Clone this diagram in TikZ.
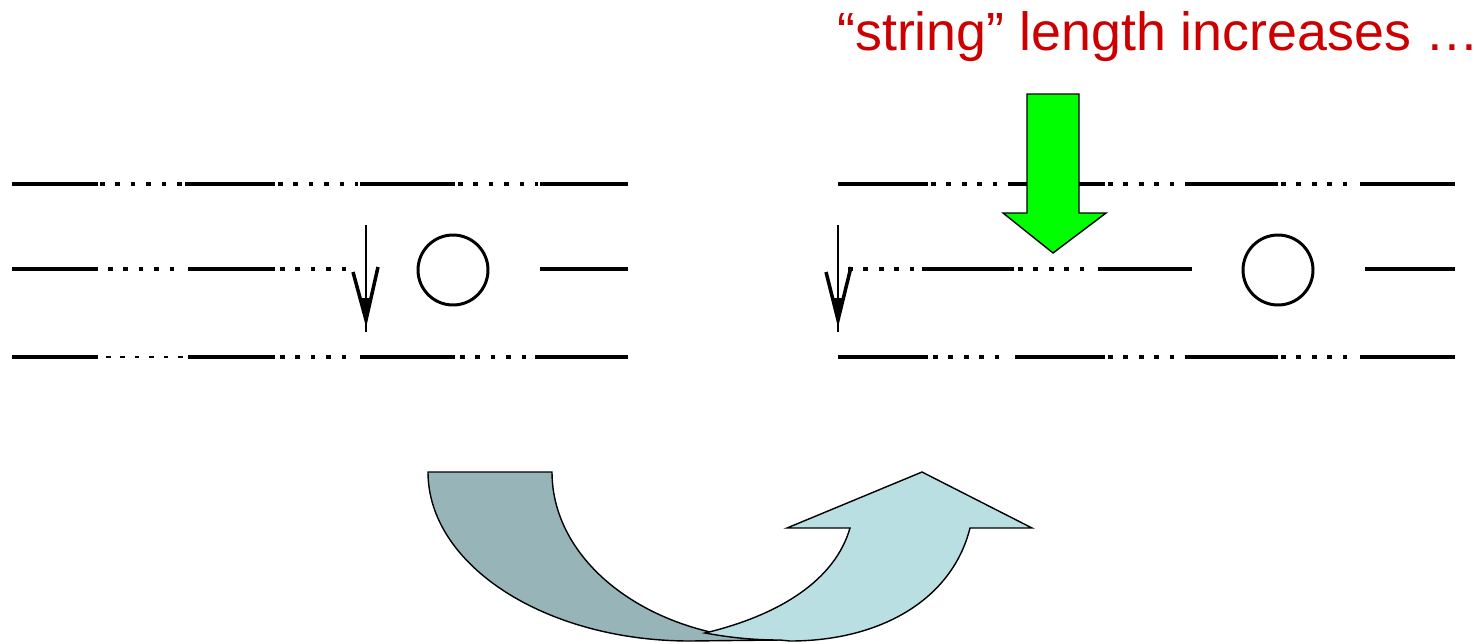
\documentclass[tikz,border=0pt]{standalone}
\usepackage{fontspec}
\setmainfont{Liberation Sans}
\usepackage{xcolor}
\usepackage{tikz}
\definecolor{titlered}{RGB}{204,0,0}
\definecolor{pushgreen}{RGB}{0,255,0}
\definecolor{bandback}{RGB}{151,180,185}
\definecolor{bandfront}{RGB}{186,223,227}
\tikzset{
    solidseg/.style={line width=2.3pt},
    dotseg/.style={line width=2.3pt, dash pattern=on 2.6pt off 6.2pt},
    thindot/.style={line width=1.4pt, dash pattern=on 2.6pt off 5.6pt},
    ring/.style={circle, draw=black, line width=1.7pt, minimum size=1.4cm, inner sep=0pt},
    defect/.style={line width=0.8pt},
    barb/.style={line width=2pt, line join=miter},
    band/.style={draw=black, line width=0.8pt}
}

\begin{document}
\begin{tikzpicture}[x=0.02cm, y=-0.02cm]
    \useasboundingbox (0,0) rectangle (1477,643);

    % title
    \node (title) [anchor=base west, inner sep=0pt, text=titlered, font=\fontsize{30.6}{36}\selectfont] at (837,50) {“string” length increases …};

    % left chain, before the move
    \draw [solidseg] (12,184) -- (98,184);
    \draw [dotseg] (100,184) -- (183,184);
    \draw [solidseg] (185,184) -- (275,184);
    \draw [dotseg] (278,184) -- (358,184);
    \draw [solidseg] (360,184) -- (455,184);
    \draw [dotseg] (458,184) -- (538,184);
    \draw [solidseg] (540,184) -- (628,184);

    \draw [solidseg] (12,269) -- (98,269);
    \draw [dotseg] (108,269) -- (182,269);
    \draw [solidseg] (188,269) -- (275,269);
    \draw [dotseg] (280,269) -- (355,269);
    \draw [solidseg] (540,269) -- (628,269);

    \draw [solidseg] (12,357) -- (98,357);
    \draw [thindot] (106,357) -- (185,357);
    \draw [solidseg] (188,357) -- (275,357);
    \draw [dotseg] (280,357) -- (355,357);
    \draw [solidseg] (360,357) -- (455,357);
    \draw [dotseg] (460,357) -- (533,357);
    \draw [solidseg] (535,357) -- (628,357);

    \node (ballL) [ring] at (453,270) {};
    \coordinate (spinLtop) at (366,225);
    \coordinate (spinLtip) at (366,332);
    \draw [defect] (spinLtop) -- (spinLtip);
    \draw [barb] (353,272) -- (366,320) -- (378,267);
    \fill (361,298) -- (371,298) -- (366,326) -- cycle;

    % right chain, after the move
    \draw [solidseg] (838,184) -- (928,184);
    \draw [dotseg] (931,184) -- (1006,184);
    \draw [solidseg] (1008,184) -- (1105,184);
    \draw [dotseg] (1108,184) -- (1183,184);
    \draw [solidseg] (1185,184) -- (1278,184);
    \draw [dotseg] (1281,184) -- (1358,184);
    \draw [solidseg] (1360,184) -- (1455,184);

    \draw [dotseg] (848,269) -- (918,269);
    \draw [solidseg] (922,269) -- (1014,269);
    \draw [dotseg] (1018,269) -- (1092,269);
    \draw [solidseg] (1098,269) -- (1192,269);
    \draw [solidseg] (1365,269) -- (1455,269);

    \draw [solidseg] (838,357) -- (928,357);
    \draw [dotseg] (933,357) -- (1010,357);
    \draw [solidseg] (1015,357) -- (1105,357);
    \draw [dotseg] (1108,357) -- (1183,357);
    \draw [solidseg] (1185,357) -- (1278,357);
    \draw [dotseg] (1281,357) -- (1358,357);
    \draw [solidseg] (1360,357) -- (1455,357);

    \node (ballR) [ring] at (1278,270) {};
    \coordinate (spinRtop) at (838,225);
    \coordinate (spinRtip) at (838,332);
    \draw [defect] (spinRtop) -- (spinRtip);
    \draw [barb] (826,272) -- (838,320) -- (851,267);
    \fill (833,298) -- (843,298) -- (838,326) -- cycle;

    % green push arrow
    \draw [fill=pushgreen, line width=0.8pt, line join=miter]
        (1027,94) -- (1079,94) -- (1079,213) -- (1106,213) -- (1053,253)
        -- (1003,213) -- (1027,213) -- cycle;

    % curved arrow below
    \draw [band, fill=bandback]
        (428,472) -- (552,472) .. controls (552,565) and (654,640) .. (780,640)
        -- (690,641) .. controls (545,641) and (428,565) .. (428,472) -- cycle;
    \draw [band, fill=bandfront]
        (705,633) .. controls (780,615) and (835,580) .. (850,528)
        -- (787,528) -- (922,472) -- (1032,528) -- (970,528)
        .. controls (952,600) and (880,641) .. (790,641)
        -- (780,640) .. controls (750,640) and (727,637) .. (705,633) -- cycle;
\end{tikzpicture}
\end{document}
